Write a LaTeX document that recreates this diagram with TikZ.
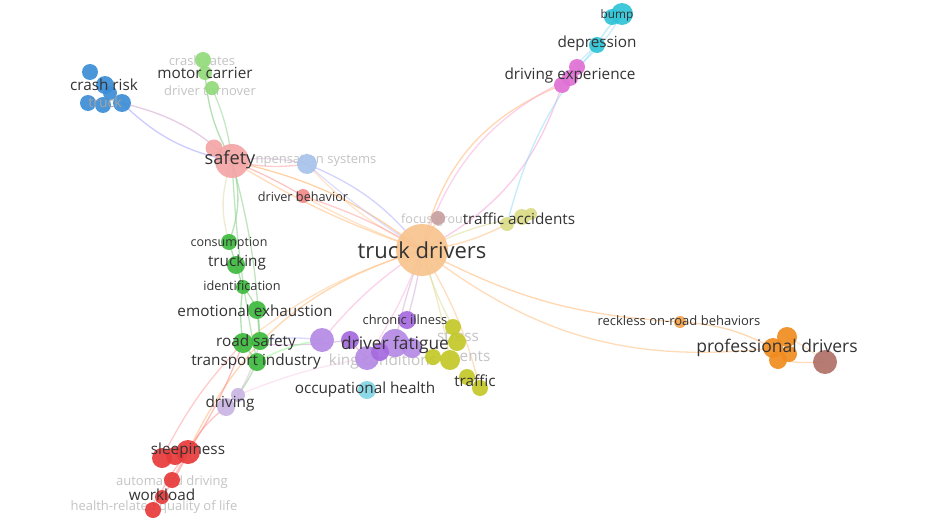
\documentclass[tikz,border=0pt]{standalone}
\usepackage{fontspec}
\setmainfont{Open Sans}
\pgfdeclarelayer{bg}\pgfdeclarelayer{mid}\pgfdeclarelayer{front}
\pgfsetlayers{bg,mid,main,front}
\newcommand\lsz[1]{\fontsize{#1}{#1}\selectfont}
\definecolor{cBlue}{HTML}{3B8ED6}
\definecolor{cLGreen}{HTML}{93DB7A}
\definecolor{cGreen}{HTML}{3DBA3D}
\definecolor{cPinkR}{HTML}{F4A6A6}
\definecolor{cRedL}{HTML}{F08A8A}
\definecolor{cRed}{HTML}{E83A3A}
\definecolor{cLBlue}{HTML}{A8C4EC}
\definecolor{cPurple}{HTML}{B58AE6}
\definecolor{cPurpleD}{HTML}{A66ADF}
\definecolor{cLilac}{HTML}{C9B6E4}
\definecolor{cCyan}{HTML}{2EC4D6}
\definecolor{cCyanL}{HTML}{82D5E5}
\definecolor{cOlive}{HTML}{C4C828}
\definecolor{cOliveL}{HTML}{DCDC88}
\definecolor{cMag}{HTML}{E070D4}
\definecolor{cOrangeL}{HTML}{F8C48E}
\definecolor{cOrange}{HTML}{F08C20}
\definecolor{cBrown}{HTML}{B07068}
\definecolor{cBrownL}{HTML}{C8A0A0}
\definecolor{cTxt}{HTML}{333333}
\definecolor{cFade}{HTML}{C4C4C4}
\tikzset{
  dot/.style={circle, inner sep=0pt, draw=none, fill opacity=0.92},
  lab/.style={inner sep=0pt, text=cTxt},
  faded/.style={inner sep=0pt, text=cFade},
  edge/.style={line width=1.3pt, opacity=0.5},
}
\begin{document}
\begin{tikzpicture}[x=1pt,y=-1pt]
\begin{pgfonlayer}{bg}
\fill[white] (0,0) rectangle (945,530);
\end{pgfonlayer}
\useasboundingbox (0,0) rectangle (945,530);
% ---------- circles ----------
\node[dot, fill=cBlue, minimum size=16pt] (b1) at (90,72) {};
\node[dot, fill=cBlue, minimum size=18pt] (b2) at (105,85) {};
\node[dot, fill=cBlue, minimum size=14pt] (b3) at (110,93) {};
\node[dot, fill=cBlue, minimum size=16pt] (b4) at (88,103) {};
\node[dot, fill=cBlue, minimum size=16pt] (b5) at (103,105) {};
\node[dot, fill=cBlue, minimum size=18pt] (b6) at (122,103) {};
\node[dot, fill=cLGreen, minimum size=16pt] (g1) at (203,60) {};
\node[dot, fill=cLGreen, minimum size=14pt] (g2) at (205,73) {};
\node[dot, fill=cLGreen, minimum size=14pt] (g3) at (212,88) {};
\node[dot, fill=cPinkR, minimum size=17pt] (s0) at (214,148) {};
\node[dot, fill=cPinkR, minimum size=34pt] (s1) at (232,161) {};
\node[dot, fill=cLBlue, minimum size=20pt] (cs) at (307,164) {};
\node[dot, fill=cRedL, minimum size=14pt] (dbh) at (303,196) {};
\node[dot, fill=cGreen, minimum size=16pt] (cons) at (229,242) {};
\node[dot, fill=cGreen, minimum size=18pt] (truc) at (236,265) {};
\node[dot, fill=cGreen, minimum size=14pt] (iden) at (243,287) {};
\node[dot, fill=cGreen, minimum size=18pt] (emo) at (257,310) {};
\node[dot, fill=cGreen, minimum size=20pt] (rs1) at (243,343) {};
\node[dot, fill=cGreen, minimum size=18pt] (rs2) at (260,341) {};
\node[dot, fill=cGreen, minimum size=18pt] (ti) at (257,362) {};
\node[dot, fill=cLilac, minimum size=14pt] (drv1) at (238,395) {};
\node[dot, fill=cLilac, minimum size=18pt] (drv2) at (226,407) {};
\node[dot, fill=cPurple, minimum size=24pt] (p1) at (322,340) {};
\node[dot, fill=cPurpleD, minimum size=18pt] (p2) at (350,340) {};
\node[dot, fill=cPurple, minimum size=28pt] (p3) at (395,343) {};
\node[dot, fill=cPurple, minimum size=24pt] (p4) at (367,358) {};
\node[dot, fill=cPurpleD, minimum size=18pt] (p5) at (407,320) {};
\node[dot, fill=cPurpleD, minimum size=18pt] (p6) at (380,352) {};
\node[dot, fill=cPurple, minimum size=20pt] (p7) at (412,348) {};
\node[dot, fill=cCyanL, minimum size=18pt] (oh) at (367,390) {};
\node[dot, fill=cOlive, minimum size=16pt] (y1) at (453,327) {};
\node[dot, fill=cOlive, minimum size=18pt] (y2) at (457,342) {};
\node[dot, fill=cOlive, minimum size=20pt] (y3) at (450,360) {};
\node[dot, fill=cOlive, minimum size=16pt] (y4) at (433,357) {};
\node[dot, fill=cOlive, minimum size=16pt] (y5) at (467,377) {};
\node[dot, fill=cOlive, minimum size=16pt] (y6) at (480,388) {};
\node[dot, fill=cOrangeL, minimum size=52pt] (td) at (422,250) {};
\node[dot, fill=cCyan, minimum size=16pt] (bump0) at (612,17) {};
\node[dot, fill=cCyan, minimum size=22pt] (bump1) at (622,14) {};
\node[dot, fill=cCyan, minimum size=16pt] (dep) at (597,45) {};
\node[dot, fill=cMag, minimum size=16pt] (de1) at (577,67) {};
\node[dot, fill=cMag, minimum size=16pt] (de2) at (570,78) {};
\node[dot, fill=cMag, minimum size=16pt] (de3) at (562,85) {};
\node[dot, fill=cBrownL, minimum size=14pt] (fg) at (438,218) {};
\node[dot, fill=cOliveL, minimum size=14pt] (ta1) at (507,224) {};
\node[dot, fill=cOliveL, minimum size=16pt] (ta2) at (522,217) {};
\node[dot, fill=cOliveL, minimum size=12pt] (ta3) at (531,214) {};
\node[dot, fill=cOrange!80, minimum size=12pt] (rk) at (680,322) {};
\node[dot, fill=cOrange, minimum size=20pt] (pd1) at (787,337) {};
\node[dot, fill=cOrange, minimum size=20pt] (pd2) at (773,348) {};
\node[dot, fill=cOrange, minimum size=18pt] (pd3) at (778,360) {};
\node[dot, fill=cOrange, minimum size=16pt] (pd4) at (789,354) {};
\node[dot, fill=cBrown, minimum size=24pt] (br) at (825,362) {};
\node[dot, fill=cRed, minimum size=20pt] (sl2) at (162,458) {};
\node[dot, fill=cRed, minimum size=18pt] (sl3) at (175,456) {};
\node[dot, fill=cRed, minimum size=24pt] (sl1) at (188,452) {};
\node[dot, fill=cRed, minimum size=16pt] (ad) at (172,480) {};
\node[dot, fill=cRed, minimum size=14pt] (wl) at (162,497) {};
\node[dot, fill=cRed, minimum size=16pt] (hr) at (153,510) {};
% ---------- connectors ----------
\begin{pgfonlayer}{bg}
\draw[edge, orange!70] (td.center) to[bend right=12] (s1.center);
\draw[edge, orange!55] (td.center) to[bend left=6] (s1.center);
\draw[edge, blue!35] (td.center) to[bend right=14] (cs.center);
\draw[edge, blue!25] (td.center) to[bend left=4] (cs.center);
\draw[edge, orange!40] (td.center) to[bend left=10] (cs.center);
\draw[edge, red!40] (td.center) to[bend right=6] (dbh.center);
\draw[edge, orange!45] (td.center) to[bend left=4] (dbh.center);
\draw[edge, orange!60] (td.center) to[bend left=28] (de3.center);
\draw[edge, magenta!35] (td.center) to[bend left=23] (de2.center);
\draw[edge, magenta!40] (td.center) to[bend right=22] (de3.center);
\draw[edge, cyan!45] (ta1.center) to[bend left=12] (dep.center);
\draw[edge, orange!55] (td.center) to (fg.center);
\draw[edge, yellow!70!black!50] (td.center) to[bend left=8] (ta2.center);
\draw[edge, orange!55] (td.center) to[bend right=10] (ta1.center);
\draw[edge, orange!60] (td.center) to[bend right=12] (rk.center);
\draw[edge, orange!60] (rk.center) to[bend left=12] (pd2.center);
\draw[edge, orange!55] (td.center) to[bend right=22] (pd2.center);
\draw[edge, magenta!35] (td.center) to[bend right=8] (p1.center);
\draw[edge, violet!35] (td.center) to[bend right=4] (p3.center);
\draw[edge, violet!35] (td.center) to[bend left=4] (p5.center);
\draw[edge, magenta!30] (td.center) to[bend left=6] (p4.center);
\draw[edge, yellow!70!black!50] (td.center) to[bend right=6] (y1.center);
\draw[edge, yellow!70!black!50] (td.center) to[bend left=4] (y3.center);
\draw[edge, orange!50] (td.center) to[bend left=8] (y6.center);
\draw[edge, orange!60] (td.center) to[bend right=24] (sl1.center);
\draw[edge, orange!45] (td.center) to[bend right=10] (rs1.center);
% safety
\draw[edge, green!60!black!60] (s1.center) to[bend left=12] (g2.center);
\draw[edge, green!60!black!45] (s1.center) to[bend right=8] (g3.center);
\draw[edge, violet!40] (b6.center) to[bend left=14] (s1.center);
\draw[edge, blue!40] (b6.center) to[bend right=16] (s1.center);
\draw[edge, violet!30] (s1.center) to[bend left=10] (cs.center);
\draw[edge, red!40] (s1.center) to[bend right=10] (cs.center);
\draw[edge, red!45] (s1.center) to[bend left=4] (dbh.center);
\draw[edge, yellow!60!black!40] (s1.center) to[bend right=18] (cons.center);
\draw[edge, green!60!black!55] (s1.center) to[bend left=18] (cons.center);
\draw[edge, green!60!black!50] (s1.center) to[bend left=6] (rs2.center);
\draw[edge, green!60!black!50] (s1.center) to[bend right=4] (ti.center);
\draw[edge, green!60!black!60] (cons.center) to (truc.center);
\draw[edge, green!60!black!60] (truc.center) to (iden.center);
\draw[edge, green!60!black!60] (iden.center) to[bend left=8] (emo.center);
\draw[edge, green!60!black!60] (iden.center) to[bend right=8] (rs1.center);
\draw[edge, green!60!black!60] (emo.center) to (rs2.center);
\draw[edge, green!60!black!60] (rs1.center) to (ti.center);
\draw[edge, blue!30] (rs2.center) to[bend left=8] (p1.center);
\draw[edge, violet!40] (rs1.center) to[bend right=6] (p2.center);
\draw[edge, green!50] (ti.center) to[bend left=10] (p1.center);
\draw[edge, green!60!black!50] (ti.center) to[bend left=6] (drv1.center);
\draw[edge, magenta!20] (drv1.center) to[bend left=6] (p4.center);
\draw[edge, violet!30] (drv1.center) to[bend right=8] (rs2.center);
\draw[edge, red!50] (sl1.center) to[bend right=6] (rs1.center);
\draw[edge, red!40] (sl2.center) to[bend left=8] (rs1.center);
\draw[edge, red!45] (sl1.center) to[bend left=12] (drv2.center);
\draw[edge, red!50] (sl1.center) to[bend left=6] (wl.center);
\draw[edge, red!45] (sl1.center) to[bend right=8] (hr.center);
\draw[edge, red!45] (sl1.center) to (ad.center);
\draw[edge, red!40] (p2.center) to[bend right=4] (p4.center);
\draw[edge, cyan!50] (dep.center) to[bend left=10] (bump1.center);
\draw[edge, cyan!40] (de1.center) to[bend right=10] (bump1.center);
\draw[edge, cyan!40] (de3.center) to[bend left=8] (dep.center);
\draw[edge, orange!55] (pd3.center) to[bend right=6] (br.center);
\draw[edge, orange!40] (pd1.center) to[bend left=6] (br.center);
\end{pgfonlayer}
% ---------- faded labels ----------
\begin{pgfonlayer}{mid}
\node[faded, font=\lsz{13}] (l-cr) at (202,61) {crash rates};
\node[faded, font=\lsz{13}] (l-dt) at (210,91) {driver turnover};
\node[faded, font=\lsz{13}] (l-cs) at (316,160) {npensation systems};
\node[faded, font=\lsz{12.5}] (l-fg) at (432,220) {focus grou};
\node[faded, font=\lsz{15.3}] (l-st) at (458,337) {stress};
\node[faded, font=\lsz{15.3}] (l-en) at (475,357) {ents};
\node[faded, font=\lsz{15.3}] (l-wc) at (383,362) {king conditions};
\node[faded, font=\lsz{13}] (l-ad) at (172,482) {automated driving};
\node[faded, font=\lsz{13}] (l-hr) at (154,507) {health-related quality of life};
\end{pgfonlayer}
% ---------- labels ----------
\begin{pgfonlayer}{front}
\node[lab, font=\lsz{22}] (l-td) at (422,250) {truck drivers};
\node[lab, font=\lsz{18.2}] (l-sf) at (230,160) {safety};
\node[lab, font=\lsz{15.3}] (l-crk) at (104,85) {crash risk};
\node[lab, text=cTxt!45, font=\lsz{14}] (l-tk) at (105,102) {truck};
\node[lab, font=\lsz{15.3}] (l-mc) at (205,73) {motor carrier};
\node[lab, font=\lsz{12.7}] (l-db) at (303,197) {driver behavior};
\node[lab, font=\lsz{12.5}] (l-co) at (229,243) {consumption};
\node[lab, font=\lsz{15.3}] (l-tr) at (237,263) {trucking};
\node[lab, font=\lsz{12.7}] (l-id) at (242,286) {identification};
\node[lab, font=\lsz{15.3}] (l-ee) at (255,311) {emotional exhaustion};
\node[lab, font=\lsz{15.3}] (l-rs) at (256,342) {road safety};
\node[lab, font=\lsz{15.3}] (l-ti) at (256,362) {transport industry};
\node[lab, font=\lsz{15.3}] (l-dr) at (230,404) {driving};
\node[lab, font=\lsz{17.3}] (l-df) at (395,345) {driver fatigue};
\node[lab, font=\lsz{12.9}] (l-ci) at (405,320) {chronic illness};
\node[lab, font=\lsz{15.3}] (l-oh) at (365,390) {occupational health};
\node[lab, font=\lsz{15.3}] (l-tf) at (475,381) {traffic};
\node[lab, font=\lsz{15.3}] (l-ta) at (519,219) {traffic accidents};
\node[lab, font=\lsz{11.8}] (l-bp) at (617,15) {bump};
\node[lab, font=\lsz{15.3}] (l-dp) at (597,44) {depression};
\node[lab, font=\lsz{15.3}] (l-de) at (570,76) {driving experience};
\node[lab, font=\lsz{13}] (l-rk) at (679,321) {reckless on-road behaviors};
\node[lab, font=\lsz{17.5}] (l-pd) at (777,348) {professional drivers};
\node[lab, font=\lsz{15.3}] (l-sl) at (188,451) {sleepiness};
\node[lab, font=\lsz{15.3}] (l-wl) at (162,495) {workload};
\end{pgfonlayer}
\end{tikzpicture}
\end{document}
